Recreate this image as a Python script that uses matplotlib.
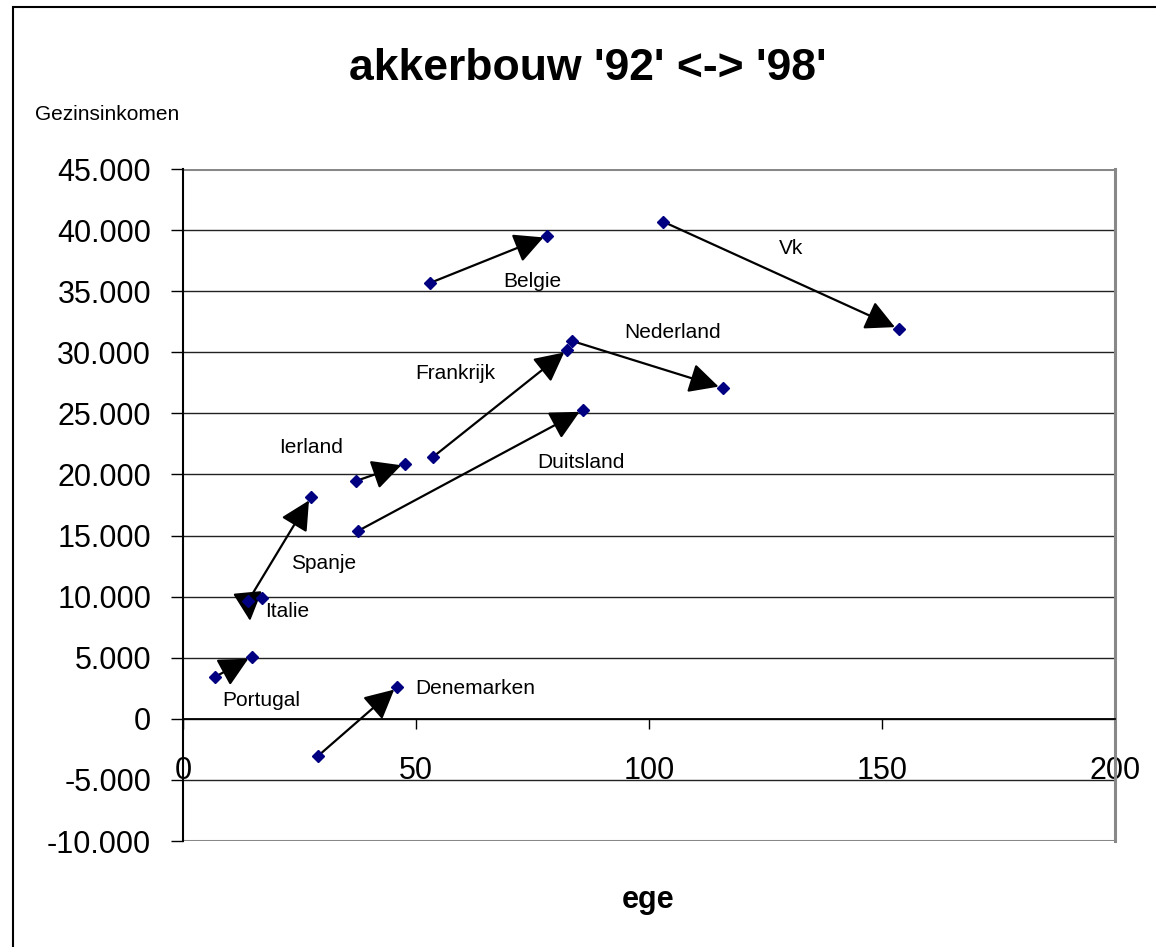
import matplotlib.pyplot as plt
from matplotlib.patches import Rectangle
from matplotlib.ticker import FuncFormatter

plt.rcParams['font.family'] = ['Liberation Sans', 'DejaVu Sans']

# data per country: 1992 -> 1998 (ege, gezinsinkomen)
landen = ["Portugal", "Spanje", "Ierland", "Frankrijk", "Nederland",
          "Duitsland", "Belgie", "Vk", "Denemarken"]
x92 = [6.9, 14.0, 37.2, 53.7, 83.4, 37.6, 53.1, 103.1, 29.0]
y92 = [3440, 9660, 19480, 21450, 30940, 15390, 35690, 40680, -3030]
x98 = [14.8, 27.5, 47.7, 82.5, 115.8, 85.9, 78.2, 153.6, 46.0]
y98 = [5080, 18170, 20870, 30200, 27090, 25290, 39530, 31920, 2620]

# Italie: single point plus a loose arrowhead just below the Spanje point
italie_x = [17.0]
italie_y = [9900]
extra_naar = (14.4, 8020)

# label anchors (data units)
label_tekst = ["Belgie", "Vk", "Nederland", "Frankrijk", "Ierland",
               "Duitsland", "Spanje", "Italie", "Portugal", "Denemarken"]
label_x = [75.0, 130.4, 105.0, 58.4, 27.5, 85.5, 30.1, 22.3, 16.8, 62.7]
label_y = [35770, 38470, 31640, 28240, 22180, 20950, 12690, 8760, 1470, 2460]

x_ticks = [0, 50, 100, 150, 200]
y_ticks = list(range(-10000, 45001, 5000))

fig = plt.figure(figsize=(11.56, 9.47), dpi=100)
ax = fig.add_axes([0.1583, 0.1119, 0.8062, 0.7096])

arrow = dict(arrowstyle='-|>,head_length=0.75,head_width=0.38', color='black',
             lw=1.6, mutation_scale=24, shrinkA=0, shrinkB=3)
for i in range(len(landen)):
    ax.annotate('', xy=(x98[i], y98[i]), xytext=(x92[i], y92[i]),
                arrowprops=arrow, zorder=3)
ax.annotate('', xy=extra_naar, xytext=(x92[1], y92[1]),
            arrowprops=dict(arrow, shrinkB=0), zorder=3)

ax.plot(x92 + x98 + italie_x, y92 + y98 + italie_y, linestyle='none',
        marker='D', markersize=6.2, color='#000080', zorder=4)

for t, lx, ly in zip(label_tekst, label_x, label_y):
    ax.text(lx, ly, t, fontsize=15, ha='center', va='center', zorder=5)

ax.set_xlim(0, 200)
ax.set_ylim(-10000, 45000)
ax.set_xticks(x_ticks)
ax.set_yticks(y_ticks)
ax.yaxis.set_major_formatter(FuncFormatter(lambda v, p: f"{v:,.0f}".replace(',', '.')))

ax.yaxis.grid(True, color='#222222', lw=1)
ax.set_axisbelow(True)
ax.axhline(45000, color='#888888', lw=2.2, zorder=2)
ax.axhline(-10000, color='#888888', lw=2.2, zorder=2)

ax.spines['bottom'].set_position(('data', 0))
ax.spines['bottom'].set_color('black')
ax.spines['bottom'].set_linewidth(1.3)
ax.spines['left'].set_color('black')
ax.spines['left'].set_linewidth(1.5)
ax.spines['top'].set_visible(False)
ax.spines['right'].set_color('#888888')
ax.spines['right'].set_linewidth(2.2)

ax.tick_params(axis='y', direction='out', length=9, width=1, pad=14, labelsize=22)
ax.tick_params(axis='x', direction='out', length=7, width=1, pad=20, labelsize=22)

fig.text(588 / 1156, 1 - 69 / 947, "akkerbouw '92' <-> '98'", fontsize=32,
         fontweight='bold', ha='center', va='center')
fig.text(35 / 1156, 1 - 115 / 947, "Gezinsinkomen", fontsize=15,
         ha='left', va='center')
fig.text(648 / 1156, 1 - 900 / 947, "ege", fontsize=22, fontweight='bold',
         ha='center', va='center')

fig.patches.append(Rectangle((13 / 1156, -0.1), 2, 1 - 7 / 947 + 0.1,
                             transform=fig.transFigure, fill=False,
                             edgecolor='black', lw=1.5))

fig.savefig("out.png", dpi=100)
